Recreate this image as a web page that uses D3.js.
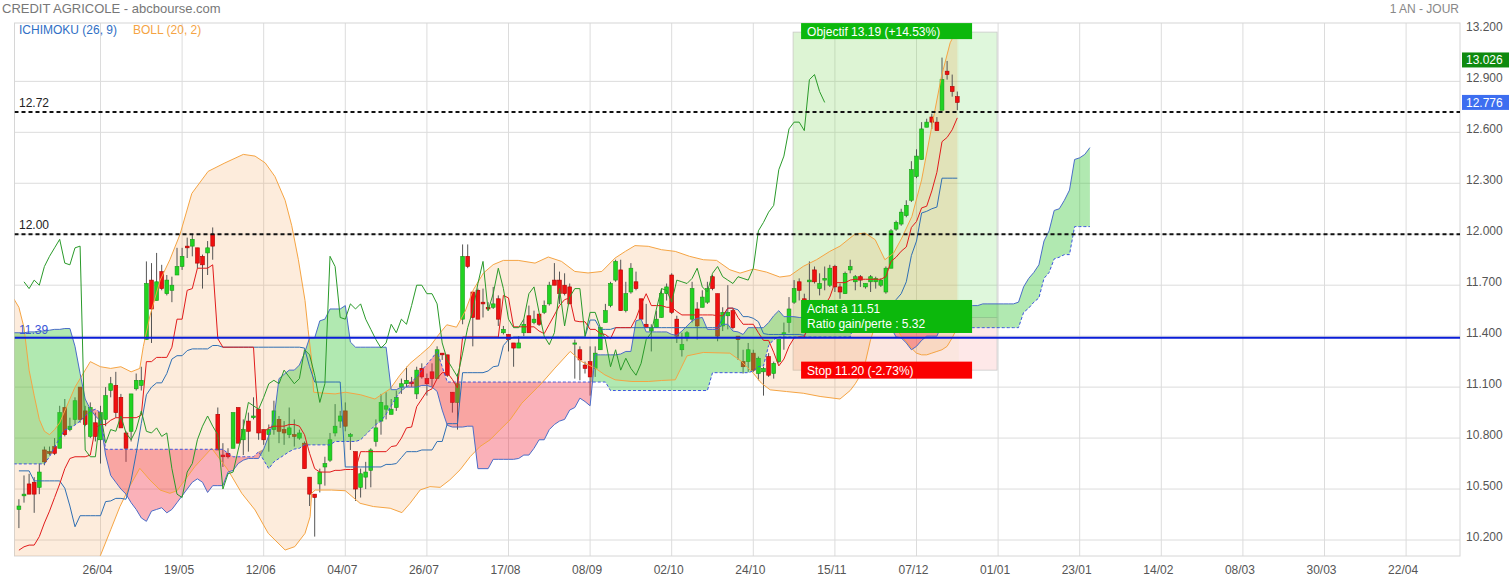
<!DOCTYPE html>
<html><head><meta charset="utf-8">
<script src="https://cdn.jsdelivr.net/npm/d3@7"></script>
<style>
body{margin:0;background:#fff;}
svg{display:block;font-family:"Liberation Sans",Arial,sans-serif;}
</style></head><body>
<svg id="c" width="1509" height="580"></svg>
<script>
// ---------------- DATA ----------------
const firstDay = -16;          // index of first candle (26/04 = day 0)
const chikouShift = 26;
const opens = [
10.38,10.46,10.53,10.54,10.51,10.73,10.72,10.75,10.74,10.98,
10.85,10.91,11.10,10.96,10.81,10.89,10.79,10.91,11.08,11.11,
11.04,10.83,10.84,11.09,11.11,11.38,11.73,11.61,11.78,11.65,
11.67,11.76,11.81,11.93,11.93,11.92,11.87,11.89,12.00,10.94,
10.70,10.71,10.74,10.98,10.79,10.90,10.92,10.97,10.85,10.82,
10.85,10.91,10.85,10.82,10.82,10.80,10.77,10.57,10.47,10.53,
10.63,10.67,10.83,10.90,10.96,10.81,10.72,10.51,10.57,10.61,
10.78,10.90,10.97,10.94,10.98,11.10,11.12,11.13,11.06,11.21,
11.15,11.19,11.15,11.30,11.29,11.07,11.01,11.50,11.87,11.66,
11.67,11.60,11.57,11.57,11.62,11.42,11.41,11.36,11.33,11.42,
11.52,11.48,11.53,11.54,11.59,11.73,11.73,11.70,11.69,11.36,
11.32,11.23,11.25,11.21,11.32,11.48,11.58,11.73,11.79,11.55,
11.66,11.72,11.62,11.47,11.43,11.45,11.51,11.65,11.76,11.50,
11.32,11.39,11.50,11.56,11.57,11.60,11.75,11.65,11.46,11.52,
11.55,11.40,11.25,11.25,11.30,11.18,11.19,11.28,11.18,11.25,
11.41,11.48,11.60,11.72,11.62,11.72,11.79,11.68,11.73,11.70,
11.81,11.69,11.65,11.79,11.72,11.75,11.69,11.72,11.72,11.70,
11.66,11.80,12.03,12.06,12.11,12.20,12.34,12.44,12.63,12.69,
12.66,12.73,12.96,12.87,12.81];
const highs = [
10.44,10.58,10.59,10.57,10.65,10.75,10.75,10.80,10.99,11.03,
10.92,11.04,11.10,10.99,11.01,10.95,10.99,11.10,11.16,11.19,
11.06,10.84,11.06,11.18,11.22,11.84,11.83,11.89,11.82,11.76,
11.75,11.92,11.92,11.98,12.00,11.92,11.88,11.96,12.04,10.98,
10.77,10.74,10.95,10.98,10.91,10.95,11.04,10.97,10.85,10.88,
11.02,10.93,10.90,10.98,10.91,10.85,10.78,10.57,10.47,10.62,
10.69,10.83,11.00,10.96,11.01,10.83,10.72,10.62,10.66,10.74,
10.91,11.06,11.07,11.03,11.08,11.15,11.22,11.16,11.22,11.24,
11.18,11.24,11.34,11.30,11.29,11.07,11.18,11.94,11.94,11.66,
11.68,11.68,11.60,11.69,11.64,11.46,11.41,11.36,11.40,11.50,
11.58,11.55,11.53,11.61,11.72,11.83,11.78,11.77,11.71,11.38,
11.34,11.25,11.34,11.34,11.45,11.59,11.72,11.85,11.85,11.72,
11.83,11.78,11.62,11.59,11.47,11.55,11.68,11.71,11.77,11.52,
11.42,11.43,11.72,11.60,11.67,11.72,11.76,11.65,11.57,11.70,
11.56,11.40,11.32,11.36,11.32,11.28,11.22,11.30,11.25,11.38,
11.48,11.63,11.73,11.74,11.65,11.84,11.81,11.77,11.81,11.82,
11.82,11.71,11.78,11.85,11.76,11.76,11.71,11.76,11.75,11.74,
11.81,12.03,12.08,12.15,12.20,12.43,12.50,12.66,12.68,12.71,
12.69,13.04,13.02,12.94,12.84];
const lows = [
10.27,10.42,10.47,10.36,10.47,10.64,10.70,10.70,10.74,10.81,
10.84,10.88,10.89,10.87,10.80,10.78,10.65,10.87,11.04,10.92,
10.86,10.66,10.78,11.08,11.08,11.38,11.36,11.61,11.67,11.64,
11.60,11.76,11.79,11.86,11.87,11.80,11.68,11.76,11.85,10.73,
10.63,10.68,10.74,10.77,10.70,10.72,10.91,10.79,10.76,10.72,
10.82,10.77,10.76,10.80,10.75,10.79,10.62,10.40,10.22,10.48,
10.52,10.66,10.81,10.86,10.84,10.73,10.43,10.45,10.50,10.51,
10.75,10.82,10.91,10.94,10.96,11.06,11.10,11.10,11.03,11.15,
11.05,11.10,11.15,11.26,11.16,10.95,10.85,11.47,11.80,11.34,
11.50,11.51,11.55,11.56,11.46,11.41,11.31,11.22,11.33,11.40,
11.42,11.47,11.46,11.53,11.58,11.70,11.59,11.64,11.59,11.15,
11.14,11.18,11.05,11.16,11.32,11.48,11.57,11.72,11.55,11.54,
11.65,11.67,11.50,11.45,11.31,11.45,11.51,11.61,11.53,11.36,
11.28,11.37,11.48,11.38,11.57,11.59,11.67,11.37,11.43,11.44,
11.44,11.26,11.18,11.19,11.19,11.14,11.05,11.16,11.15,11.24,
11.32,11.42,11.59,11.61,11.59,11.61,11.71,11.64,11.67,11.69,
11.66,11.62,11.65,11.77,11.67,11.69,11.68,11.66,11.68,11.69,
11.65,11.80,12.02,12.05,12.10,12.19,12.33,12.44,12.63,12.62,
12.61,12.73,12.91,12.81,12.73];
const closes = [
10.40,10.47,10.47,10.47,10.60,10.66,10.71,10.71,10.95,10.82,
10.87,11.02,10.91,10.88,10.98,10.81,10.95,11.05,11.12,10.95,
10.86,10.74,11.06,11.14,11.14,11.71,11.56,11.72,11.68,11.73,
11.70,11.81,11.87,11.92,11.97,11.83,11.82,11.92,11.93,10.73,
10.69,10.69,10.95,10.77,10.85,10.84,10.93,10.83,10.79,10.85,
10.96,10.84,10.83,10.86,10.81,10.83,10.62,10.47,10.45,10.60,
10.65,10.79,10.87,10.93,10.87,10.82,10.50,10.59,10.60,10.73,
10.86,11.01,10.99,10.97,11.04,11.12,11.14,11.12,11.20,11.16,
11.12,11.15,11.32,11.29,11.17,11.01,11.12,11.87,11.81,11.51,
11.50,11.59,11.56,11.59,11.50,11.44,11.38,11.33,11.36,11.47,
11.42,11.50,11.47,11.58,11.70,11.70,11.65,11.65,11.59,11.36,
11.26,11.21,11.16,11.30,11.45,11.55,11.71,11.84,11.55,11.65,
11.80,11.68,11.50,11.45,11.45,11.50,11.65,11.69,11.54,11.40,
11.35,11.42,11.68,11.46,11.63,11.68,11.68,11.40,11.54,11.54,
11.45,11.38,11.22,11.32,11.20,11.27,11.21,11.17,11.24,11.38,
11.42,11.56,11.68,11.67,11.60,11.73,11.72,11.71,11.74,11.80,
11.69,11.66,11.77,11.81,11.75,11.73,11.71,11.75,11.74,11.73,
11.80,12.02,12.07,12.13,12.17,12.38,12.46,12.62,12.66,12.66,
12.61,12.91,12.94,12.84,12.776];

// Ichimoku lines (daily, from firstDay)
const tenkan = [
10.14,10.16,10.17,10.17,10.22,10.30,10.37,10.45,10.53,10.62,
10.68,10.69,10.69,10.69,10.70,10.86,10.88,10.88,10.905,10.92,
10.92,10.92,10.92,10.92,10.935,11.25,11.25,11.275,11.275,11.275,
11.335,11.50,11.50,11.67,11.68,11.80,11.80,11.80,11.82,11.385,
11.335,11.335,11.335,11.335,11.335,11.335,11.335,10.835,10.835,10.86,
10.87,10.87,10.87,10.88,10.88,10.87,10.82,10.71,10.62,10.60,
10.60,10.60,10.61,10.61,10.615,10.615,10.615,10.72,10.72,10.72,
10.72,10.72,10.72,10.75,10.755,10.80,10.86,10.865,10.985,11.03,
11.075,11.09,11.15,11.185,11.185,11.145,11.095,11.395,11.395,11.395,
11.395,11.395,11.395,11.395,11.395,11.64,11.625,11.455,11.455,11.455,
11.455,11.455,11.43,11.415,11.47,11.525,11.58,11.615,11.625,11.49,
11.485,11.485,11.44,11.44,11.415,11.41,11.385,11.45,11.45,11.45,
11.45,11.505,11.585,11.65,11.58,11.58,11.58,11.57,11.57,11.545,
11.525,11.525,11.525,11.525,11.525,11.525,11.525,11.52,11.52,11.565,
11.565,11.51,11.47,11.47,11.47,11.42,11.375,11.375,11.305,11.225,
11.265,11.34,11.39,11.395,11.395,11.495,11.495,11.54,11.58,11.63,
11.715,11.715,11.715,11.73,11.735,11.735,11.735,11.735,11.735,11.735,
11.75,11.84,11.865,11.90,11.925,12.04,12.075,12.155,12.165,12.255,
12.365,12.545,12.57,12.615,12.685];
const kijun = [
10.607,10.607,10.607,10.548,10.548,10.548,10.548,10.548,10.548,10.505,
10.40,10.278,10.343,10.343,10.343,10.343,10.343,10.426,10.43,10.445,
10.445,10.44,10.55,10.71,10.887,11.055,11.10,11.125,11.125,11.18,
11.265,11.285,11.285,11.315,11.325,11.325,11.325,11.325,11.345,11.345,
11.335,11.335,11.335,11.335,11.335,11.335,11.335,11.335,11.335,11.335,
11.335,11.335,11.335,11.335,11.335,11.335,11.33,11.22,11.13,11.13,
11.13,11.13,11.13,11.13,10.63,10.63,10.63,10.63,10.63,10.63,
10.63,10.63,10.645,10.645,10.65,10.685,10.72,10.72,10.72,10.73,
10.73,10.73,10.78,10.78,10.885,10.885,10.885,11.185,11.185,11.185,
11.185,11.185,11.195,11.22,11.225,11.345,11.38,11.395,11.395,11.395,
11.395,11.395,11.395,11.395,11.395,11.395,11.395,11.395,11.395,11.395,
11.395,11.395,11.495,11.495,11.44,11.44,11.44,11.45,11.45,11.45,
11.45,11.45,11.45,11.45,11.45,11.45,11.45,11.45,11.45,11.45,
11.45,11.45,11.45,11.45,11.45,11.45,11.45,11.45,11.505,11.565,
11.565,11.555,11.515,11.515,11.505,11.485,11.415,11.41,11.41,11.41,
11.41,11.41,11.41,11.41,11.405,11.445,11.445,11.445,11.445,11.445,
11.445,11.445,11.445,11.45,11.45,11.45,11.45,11.45,11.45,11.45,
11.45,11.54,11.615,11.65,11.72,11.875,11.96,12.125,12.135,12.15,
12.16,12.33,12.33,12.33,12.33];
// Cloud spans (daily, from cloudFirstDay, projected 26 days ahead)
const cloudFirstDay = -17;
const spanA = [
11.42,11.42,11.42,11.425,11.425,11.43,11.43,11.435,11.44,11.44,
11.445,11.445,11.34,11.18,11.03,10.97,10.93,10.90,10.70,10.58,
10.54,10.50,10.47,10.42,10.38,10.33,10.31,10.37,10.38,10.39,
10.36,10.38,10.42,10.46,10.50,10.54,10.56,10.54,10.48,10.52,
10.52,10.52,10.60,10.61,10.65,10.67,10.68,10.68,10.68,10.735,
10.815,10.91,11.15,11.175,11.20,11.20,11.23,11.30,11.39,11.39,
11.49,11.50,11.56,11.56,11.56,11.58,11.365,11.335,11.335,11.335,
11.335,11.335,11.335,11.335,11.085,11.085,11.10,11.10,11.10,11.10,
11.11,11.11,11.10,11.075,10.965,10.875,10.865,10.865,10.865,10.87,
10.87,10.62,10.62,10.62,10.675,10.675,10.675,10.675,10.675,10.68,
10.70,10.70,10.74,10.79,10.79,10.85,10.88,10.90,10.91,10.965,
10.98,11.035,11.015,10.99,11.29,11.29,11.29,11.29,11.29,11.295,
11.31,11.31,11.49,11.50,11.425,11.425,11.425,11.425,11.425,11.41,
11.405,11.43,11.46,11.49,11.505,11.51,11.44,11.44,11.44,11.47,
11.47,11.43,11.425,11.41,11.45,11.45,11.45,11.45,11.48,11.52,
11.55,11.515,11.515,11.515,11.51,11.51,11.50,11.49,11.49,11.49,
11.49,11.49,11.49,11.49,11.485,11.51,11.565,11.565,11.53,11.49,
11.49,11.49,11.45,11.395,11.39,11.36,11.32,11.34,11.375,11.40,
11.40,11.40,11.47,11.47,11.49,11.51,11.54,11.58,11.58,11.58,
11.59,11.59,11.59,11.59,11.59,11.59,11.59,11.60,11.69,11.74,
11.775,11.82,11.96,12.02,12.14,12.15,12.20,12.26,12.44,12.45,
12.47,12.51];
const spanB = [
10.648,10.648,10.648,10.648,10.648,10.648,10.648,10.69,10.746,10.80,
10.848,10.86,10.877,10.90,10.93,10.956,10.97,10.95,10.734,10.734,
10.734,10.734,10.734,10.734,10.734,10.734,10.734,10.734,10.734,10.734,
10.734,10.734,10.734,10.734,10.734,10.734,10.734,10.734,10.734,10.734,
10.734,10.734,10.71,10.69,10.69,10.69,10.69,10.69,10.72,10.67,
10.62,10.66,10.68,10.70,10.72,10.735,10.74,10.76,10.76,10.76,
10.76,10.76,10.76,10.78,10.78,10.78,10.78,10.78,10.79,10.82,
10.85,10.88,10.90,10.94,10.99,11.04,11.08,11.10,11.13,11.16,
11.20,11.235,11.27,11.31,11.22,11.13,11.13,11.13,11.13,11.13,
11.13,11.13,11.13,11.13,11.13,11.13,11.13,11.13,11.13,11.13,
11.13,11.13,11.13,11.13,11.13,11.13,11.13,11.13,11.13,11.13,
11.13,11.13,11.13,11.13,11.13,11.13,11.13,11.08,11.08,11.08,
11.08,11.08,11.08,11.08,11.08,11.08,11.08,11.08,11.08,11.08,
11.08,11.08,11.08,11.08,11.08,11.08,11.08,11.185,11.185,11.185,
11.185,11.185,11.185,11.185,11.185,11.195,11.22,11.225,11.345,11.38,
11.395,11.395,11.395,11.395,11.395,11.395,11.395,11.395,11.395,11.395,
11.395,11.395,11.395,11.395,11.395,11.495,11.495,11.45,11.45,11.45,
11.45,11.45,11.45,11.45,11.45,11.45,11.45,11.45,11.45,11.45,
11.45,11.45,11.45,11.45,11.45,11.45,11.45,11.45,11.45,11.45,
11.45,11.45,11.45,11.45,11.45,11.45,11.45,11.45,11.54,11.565,
11.60,11.625,11.74,11.775,11.855,11.865,11.88,11.88,12.045,12.045,
12.045,12.045];
// Bollinger (20,2) bands read as [day, value]
const bollUpper = [[-17,11.62],[-16,11.57],[-15,11.45],[-14,11.2],[-13,11.05],[-12,10.91],[-11,10.84],[-10,10.82],[-9,10.85],[-8,10.89],[-7,10.96],[-6,11.03],[-5,11.10],[-4,11.15],[-2,11.25],[0,11.22],[2,11.21],[4,11.22],[6,11.19],[7.7,11.21],[8.4,11.34],[9.7,11.52],[11.7,11.73],[13.6,11.85],[15.6,12.0],[17.9,12.24],[21.1,12.37],[24.4,12.42],[28,12.47],[30.3,12.46],[32.3,12.42],[34.2,12.34],[36.2,12.2],[37.5,12.05],[38.8,11.85],[40.1,11.61],[40.7,11.44],[41.4,11.26],[41.8,11.07],[44,11.064],[46,11.06],[48,11.07],[51,11.055],[53.8,11.03],[56.8,11.09],[58.7,11.17],[60.7,11.24],[62.7,11.29],[64.6,11.34],[66.6,11.42],[67.9,11.467],[69.8,11.453],[71.5,11.546],[73.1,11.673],[75.1,11.772],[77,11.821],[79,11.846],[81.9,11.846],[85.2,11.83],[87.8,11.866],[90.4,11.84],[93,11.781],[95.6,11.772],[98.3,11.781],[100.9,11.86],[102.9,11.899],[104.8,11.933],[107.4,11.929],[110,11.909],[112.7,11.899],[115.5,11.87],[118.2,11.85],[120.8,11.846],[123.4,11.791],[125.4,11.771],[128,11.795],[130.6,11.777],[133.2,11.748],[135.2,11.756],[137.8,11.811],[140.4,11.85],[143,11.899],[145,11.93],[147.9,12.0],[149.9,12.007],[151.9,11.968],[153.8,11.85],[155.5,11.889],[157.1,11.977],[159.1,12.105],[161,12.32],[163,12.635],[164.9,12.93],[166.6,13.127],[168,13.21]];
const bollLower = [[-17,9.2],[-14,9.5],[-11,9.85],[-8,9.95],[-5,9.95],[-2,10.02],[0,10.11],[2,10.26],[3.8,10.396],[5.8,10.52],[7.7,10.622],[9.7,10.553],[11.7,10.494],[13.6,10.475],[15,10.49],[18.5,10.632],[21.8,10.74],[25,10.612],[27.7,10.475],[30.3,10.377],[32.9,10.239],[36.2,10.141],[38.1,10.161],[40.1,10.239],[41.1,10.337],[41.4,10.475],[42.1,10.494],[45.3,10.494],[48,10.49],[50.9,10.416],[53.5,10.397],[56.8,10.387],[59.1,10.361],[60.7,10.416],[62.7,10.495],[64.6,10.514],[66.6,10.51],[68.5,10.554],[70.5,10.613],[72.5,10.691],[74.4,10.75],[76.4,10.79],[78.3,10.848],[80.3,10.907],[82.6,11.005],[86.5,11.123],[89.1,11.212],[92.1,11.31],[94.3,11.251],[97,11.212],[98.9,11.172],[100.9,11.143],[104.2,11.133],[107.4,11.133],[110,11.139],[112.7,11.143],[115,11.284],[118.2,11.304],[123.4,11.30],[125.7,11.251],[128,11.182],[129.6,11.123],[131.3,11.084],[134.5,11.074],[137.8,11.064],[141.1,11.045],[145,11.03],[147,11.08],[148,11.12],[149,11.17],[150,11.25],[151,11.38],[152,11.47],[153,11.53],[154,11.52],[155,11.47],[156,11.45],[157,11.40],[158,11.37],[159,11.33],[160,11.30],[161,11.29],[162,11.29],[163,11.30],[164,11.31],[165,11.32],[166,11.34],[167,11.39],[168,11.45]];

const xTickLabels = ['26/04','19/05','12/06','04/07','26/07','17/08','08/09','02/10','24/10','15/11','07/12','01/01','23/01','14/02','08/03','30/03','22/04'];
const xTickStep = 16;
const yTickValues = [10.2,10.5,10.8,11.1,11.4,11.7,12.0,12.3,12.6,12.9,13.2];
const dashedLevels = [12.72, 12.00];
const supportLevel = 11.39;
const lastHigh = 13.026, lastClose = 12.776;
const trade = {from:135.8, to:175.8, target:13.19, entry:11.51, stop:11.20};
const tradeTexts = {target:'Objectif 13.19 (+14.53%)', entry:['Achat à 11.51','Ratio gain/perte : 5.32'], stop:'Stop 11.20 (-2.73%)'};

// ---------------- CHART ----------------
const svg = d3.select('#c');
const P = {l:14.5, r:1460, t:23, b:556};
const x = d3.scaleLinear().domain([0,16]).range([100.5,182.1]);
const y = d3.scaleLinear().domain([10.2,13.2]).range([540,30.4]);

svg.append('defs').append('clipPath').attr('id','clip').append('rect')
  .attr('x',P.l).attr('y',P.t).attr('width',P.r-P.l).attr('height',P.b-P.t);

// grid
const grid = svg.append('g');
grid.selectAll('line.h').data(yTickValues.filter(v=>v<13.1)).join('line')
  .attr('x1',P.l).attr('x2',P.r).attr('y1',d=>y(d)).attr('y2',d=>y(d))
  .attr('stroke','#dcdcdc').attr('stroke-width',1);
grid.selectAll('line.v').data(xTickLabels.map((d,k)=>k*xTickStep)).join('line')
  .attr('x1',d=>x(d)).attr('x2',d=>x(d)).attr('y1',P.t).attr('y2',P.b)
  .attr('stroke','#dcdcdc').attr('stroke-width',1);
grid.append('rect').attr('x',P.l).attr('y',P.t).attr('width',P.r-P.l).attr('height',P.b-P.t)
  .attr('fill','none').attr('stroke','#d6d6d6');

const g = svg.append('g').attr('clip-path','url(#clip)');

// trade zone
g.append('rect').attr('x',x(trade.from)).attr('width',x(trade.to)-x(trade.from))
  .attr('y',y(trade.target)).attr('height',y(trade.entry)-y(trade.target))
  .attr('fill','rgba(120,220,110,0.24)').attr('stroke','#c9c9c9').attr('stroke-width',0.8);
g.append('rect').attr('x',x(trade.from)).attr('width',x(trade.to)-x(trade.from))
  .attr('y',y(trade.entry)).attr('height',y(trade.stop)-y(trade.entry))
  .attr('fill','rgba(250,130,130,0.18)').attr('stroke','#c9c9c9').attr('stroke-width',0.8);
const lastDay = firstDay + closes.length - 1;
g.append('rect').attr('x',x(trade.from)).attr('width',x(lastDay+0.3)-x(trade.from))
  .attr('y',y(trade.target)).attr('height',y(trade.stop)-y(trade.target))
  .attr('fill','rgba(210,200,90,0.06)');

// Bollinger fill
const line = d3.line().x(d=>x(d[0])).y(d=>y(d[1]));
g.append('path').attr('d', line(bollUpper.concat(bollLower.slice().reverse()))+'Z')
  .attr('fill','rgba(245,160,80,0.2)').attr('stroke','none');

// candles
const candles = closes.map((c,k)=>({i:firstDay+k,o:opens[k],h:highs[k],l:lows[k],c:c}));
g.selectAll('line.wick').data(candles).join('line')
  .attr('x1',d=>x(d.i)).attr('x2',d=>x(d.i)).attr('y1',d=>y(d.h)).attr('y2',d=>y(d.l))
  .attr('stroke','#555').attr('stroke-width',1);
g.selectAll('rect.body').data(candles).join('rect')
  .attr('x',d=>x(d.i)-1.9).attr('width',3.8)
  .attr('y',d=>y(Math.max(d.o,d.c)))
  .attr('height',d=>Math.max(1.2,Math.abs(y(d.o)-y(d.c))))
  .attr('fill',d=>d.c>=d.o?'#22d322':'#f01010')
  .attr('stroke',d=>d.c>=d.o?'#179b17':'#b00000').attr('stroke-width',0.6);

// cloud
const cloud = spanA.map((a,k)=>({i:cloudFirstDay+k,a:a,b:spanB[k]}));
g.append('path').datum(cloud)
  .attr('d',d3.area().x(d=>x(d.i)).y0(d=>y(d.b)).y1(d=>y(Math.max(d.a,d.b))))
  .attr('fill','rgba(60,200,60,0.4)');
g.append('path').datum(cloud)
  .attr('d',d3.area().x(d=>x(d.i)).y0(d=>y(d.a)).y1(d=>y(Math.max(d.a,d.b))))
  .attr('fill','rgba(240,40,60,0.36)');

// lines
g.append('path').attr('d',line(bollUpper)).attr('fill','none').attr('stroke','#f5a443').attr('stroke-width',1);
g.append('path').attr('d',line(bollLower)).attr('fill','none').attr('stroke','#f5a443').attr('stroke-width',1);
g.append('path').attr('d',line(cloud.map(d=>[d.i,d.b]))).attr('fill','none').attr('stroke','#3d55e0').attr('stroke-width',1).attr('stroke-dasharray','3,2');
g.append('path').attr('d',line(cloud.map(d=>[d.i,d.a]))).attr('fill','none').attr('stroke','#4a6cc8').attr('stroke-width',1);
g.append('path').attr('d',line(kijun.map((v,k)=>[firstDay+k,v]))).attr('fill','none').attr('stroke','#2f6fb3').attr('stroke-width',1);
g.append('path').attr('d',line(tenkan.map((v,k)=>[firstDay+k,v]))).attr('fill','none').attr('stroke','#e01b1b').attr('stroke-width',1);
g.append('path').attr('d',line(closes.map((c,k)=>[firstDay+k-chikouShift,c]).filter(d=>d[0]>firstDay)))
  .attr('fill','none').attr('stroke','#2a9a2a').attr('stroke-width',1);

// levels
g.selectAll('line.lvl').data(dashedLevels).join('line')
  .attr('x1',P.l).attr('x2',P.r).attr('y1',d=>y(d)).attr('y2',d=>y(d))
  .attr('stroke','#111').attr('stroke-width',2).attr('stroke-dasharray','4,3');
g.append('line').attr('x1',P.l).attr('x2',P.r).attr('y1',y(supportLevel)).attr('y2',y(supportLevel))
  .attr('stroke','#0a1ed8').attr('stroke-width',2);

const T = svg.append('g').style('font-size','12px');
T.selectAll('text.lvl').data(dashedLevels).join('text')
  .attr('x',19).attr('y',d=>y(d)-5).attr('fill','#222').text(d=>d3.format('.2f')(d));
T.append('text').attr('x',19).attr('y',y(supportLevel)-4).attr('fill','#3a56d8').text(d3.format('.2f')(supportLevel));

// trade labels
const bx = x(trade.from)+8, bw = 171;
function box(yc,h,fill,lines){
  T.append('rect').attr('x',bx).attr('y',yc-h/2).attr('width',bw).attr('height',h).attr('fill',fill);
  lines.forEach((s,k)=>T.append('text').attr('x',bx+6).attr('y',yc-h/2+13+k*15).attr('fill','#fff').text(s));
}
box(y(trade.target)-1,16,'#0cb80c',[tradeTexts.target]);
box(y(trade.entry)-1,33,'#0cb80c',tradeTexts.entry);
box(y(trade.stop),17,'#fa0000',[tradeTexts.stop]);

// axes text
T.selectAll('text.yt').data(yTickValues).join('text')
  .attr('x',1466).attr('y',d=>y(d)+1).attr('fill','#555').text(d=>d3.format('.3f')(d));
T.selectAll('text.xt').data(xTickLabels).join('text')
  .attr('x',(d,k)=>x(k*xTickStep)-3).attr('y',574).attr('text-anchor','middle').attr('fill','#555').text(d=>d);
[[lastHigh,'#0f8a0f'],[lastClose,'#3d6ef0']].forEach(([v,c])=>{
  T.append('rect').attr('x',1462).attr('y',y(v)-7.5).attr('width',47).attr('height',15).attr('fill',c);
  T.append('text').attr('x',1466).attr('y',y(v)+4.5).attr('fill','#fff').text(d3.format('.3f')(v));
});

// titles & legend
svg.append('text').attr('x',2).attr('y',13).attr('fill','#777').style('font-size','13px').text('CREDIT AGRICOLE - abcbourse.com');
svg.append('text').attr('x',1459).attr('y',13).attr('text-anchor','end').attr('fill','#888').style('font-size','12px').text('1 AN - JOUR');
svg.append('text').attr('x',19).attr('y',34).attr('fill','#2f6fc5').style('font-size','12px').text('ICHIMOKU (26, 9)');
svg.append('text').attr('x',133).attr('y',34).attr('fill','#f5a443').style('font-size','12px').text('BOLL (20, 2)');
</script>
</body></html>
